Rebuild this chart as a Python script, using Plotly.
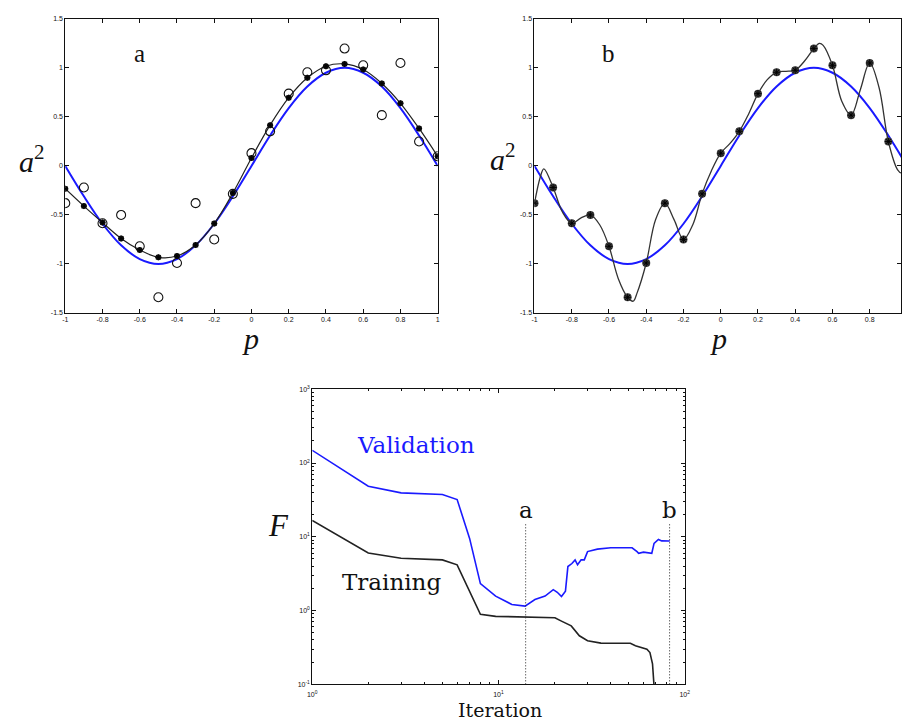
import math
import plotly.graph_objects as go

# ---------------- data ----------------
p_samples = [-1.0, -0.9, -0.8, -0.7, -0.6, -0.5, -0.4, -0.3, -0.2, -0.1, 0.0,
             0.1, 0.2, 0.3, 0.4, 0.5, 0.6, 0.7, 0.8, 0.9, 1.0]
# noisy training targets (open circles)
targets = [-0.38, -0.22, -0.585, -0.50, -0.82, -1.34, -0.99, -0.38, -0.75, -0.285, 0.13,
           0.353, 0.737, 0.955, 0.975, 1.197, 1.026, 0.518, 1.05, 0.249, 0.098]
# underlying function (blue)
true_fn = [0.0, -0.31, -0.59, -0.81, -0.95, -1.0, -0.95, -0.81, -0.59, -0.31, 0.0,
           0.31, 0.59, 0.81, 0.95, 1.0, 0.95, 0.81, 0.59, 0.31, 0.0]
# network response at point a (early stopping)
resp_a = [-0.233, -0.41, -0.578, -0.74, -0.858, -0.932, -0.919, -0.807, -0.588, -0.277, 0.081,
          0.416, 0.696, 0.899, 1.017, 1.04, 0.983, 0.841, 0.639, 0.382, 0.098]
# network response at point b (overfit)
p_curve_b = [-1.0, -0.97, -0.95, -0.9, -0.85, -0.8, -0.75, -0.7, -0.65, -0.6, -0.55, -0.5,
             -0.47, -0.45, -0.4, -0.35, -0.3, -0.25, -0.2, -0.15, -0.1, -0.05, 0.0,
             0.05, 0.1, 0.15, 0.2, 0.25, 0.3, 0.35, 0.4, 0.45, 0.5, 0.53, 0.55, 0.6,
             0.65, 0.7, 0.75, 0.8, 0.85, 0.9, 0.95, 0.97, 1.0]
resp_b = [-0.38, -0.12, -0.03, -0.22, -0.47, -0.585, -0.53, -0.50, -0.60, -0.82, -1.15, -1.34,
          -1.38, -1.30, -0.99, -0.55, -0.38, -0.55, -0.75, -0.60, -0.285, -0.05, 0.13,
          0.23, 0.353, 0.53, 0.737, 0.88, 0.955, 0.965, 0.975, 1.07, 1.197, 1.25, 1.23, 1.026,
          0.66, 0.518, 0.78, 1.05, 0.80, 0.249, -0.04, -0.07, 0.098]

# performance index vs iteration
val_iter = [1, 2, 3, 5, 6, 7, 8, 9.66, 11.8, 13.9, 15.7, 17.8, 19.7, 20.7, 21.8, 22.9,
            23.6, 24.8, 25.8, 26.6, 27.8, 28.9, 30.1, 34.0, 40.1, 52.2, 55.5, 56.6,
            60.1, 66.6, 68.5, 72.3, 75.3, 83.2]
val_F = [148.6, 48.4, 39.4, 37.4, 32.0, 9.5, 2.32, 1.57, 1.21, 1.15, 1.41, 1.57, 1.92, 1.77,
         1.55, 1.83, 3.95, 4.34, 4.86, 4.17, 4.86, 4.86, 6.3, 6.8, 7.1, 7.1, 6.3, 5.98,
         6.2, 5.98, 8.15, 9.2, 8.8, 8.76]
train_iter = [1, 2, 3, 5, 6, 8, 9.66, 14, 20.1, 21.8, 24.6, 27.2, 30.1, 35.5, 51.1, 54.4,
              62.7, 65.1, 67.2, 68.4, 69.0]
train_F = [16.7, 6.04, 5.12, 4.86, 4.17, 0.89, 0.835, 0.82, 0.80, 0.72, 0.62, 0.455, 0.39,
           0.362, 0.36, 0.333, 0.30, 0.27, 0.19, 0.10, 0.06]

marker_iters = [14, 83]
marker_labels = ["a", "b"]
marker_top = 14.8

p_ticks = [-1, -0.8, -0.6, -0.4, -0.2, 0, 0.2, 0.4, 0.6, 0.8, 1]
p_ticktext = ["-1", "-0.8", "-0.6", "-0.4", "-0.2", "0", "0.2", "0.4", "0.6", "0.8", "1"]
a_ticks = [-1.5, -1, -0.5, 0, 0.5, 1, 1.5]
a_ticktext = ["-1.5", "-1", "-0.5", "0", "0.5", "1", "1.5"]
it_ticks = [1, 10, 100]
it_ticktext = ["10<sup>0</sup>", "10<sup>1</sup>", "10<sup>2</sup>"]
F_ticks = [0.1, 1, 10, 100, 1000]
F_ticktext = ["10<sup>-1</sup>", "10<sup>0</sup>", "10<sup>1</sup>", "10<sup>2</sup>", "10<sup>3</sup>"]
minor_it = [2, 3, 4, 5, 6, 7, 8, 9, 20, 30, 40, 50, 60, 70, 80, 90]
minor_F = [v * m for v in [0.1, 1, 10, 100] for m in [2, 3, 4, 5, 6, 7, 8, 9]]

BLUE = "#1a1aff"
SERIF = "Liberation Serif, DejaVu Serif, serif"
WSERIF = "DejaVu Serif, Liberation Serif, serif"
SANS = "Liberation Sans, Arial, sans-serif"

fig = go.Figure()

# ---- panel a ----
fig.add_trace(go.Scatter(x=p_samples, y=true_fn, mode="lines", line=dict(color=BLUE, width=2, shape="spline"),
                         xaxis="x", yaxis="y", showlegend=False))
fig.add_trace(go.Scatter(x=p_samples, y=resp_a, mode="lines", line=dict(color="#222", width=1.2, shape="spline"),
                         xaxis="x", yaxis="y", showlegend=False))
fig.add_trace(go.Scatter(x=p_samples, y=targets, mode="markers",
                         marker=dict(symbol="circle-open", size=9, color="#111", line=dict(width=1.1)),
                         xaxis="x", yaxis="y", showlegend=False))
fig.add_trace(go.Scatter(x=p_samples, y=resp_a, mode="markers",
                         marker=dict(symbol="circle", size=6, color="#111"),
                         xaxis="x", yaxis="y", showlegend=False))
fig.add_trace(go.Scatter(x=p_samples, y=resp_a, mode="markers",
                         marker=dict(symbol="asterisk-open", size=5, color="#000", line=dict(width=0.8)),
                         xaxis="x", yaxis="y", showlegend=False))

# ---- panel b ----
fig.add_trace(go.Scatter(x=p_samples, y=true_fn, mode="lines", line=dict(color=BLUE, width=2, shape="spline"),
                         xaxis="x2", yaxis="y2", showlegend=False))
fig.add_trace(go.Scatter(x=p_curve_b, y=resp_b, mode="lines", line=dict(color="#333", width=1.3, shape="spline"),
                         xaxis="x2", yaxis="y2", showlegend=False))
fig.add_trace(go.Scatter(x=p_samples, y=targets, mode="markers",
                         marker=dict(symbol="circle", size=8, color="#3a3a3a"),
                         xaxis="x2", yaxis="y2", showlegend=False))
fig.add_trace(go.Scatter(x=p_samples, y=targets, mode="markers",
                         marker=dict(symbol="asterisk-open", size=6, color="#000", line=dict(width=0.9)),
                         xaxis="x2", yaxis="y2", showlegend=False))

# ---- performance plot ----
fig.add_trace(go.Scatter(x=val_iter, y=val_F, mode="lines", line=dict(color=BLUE, width=1.6),
                         xaxis="x3", yaxis="y3", showlegend=False))
fig.add_trace(go.Scatter(x=train_iter, y=train_F, mode="lines", line=dict(color="#222", width=1.6),
                         xaxis="x3", yaxis="y3", showlegend=False))
for it, lab in zip(marker_iters, marker_labels):
    fig.add_trace(go.Scatter(x=[it, it], y=[0.1, marker_top], mode="lines",
                             line=dict(color="#222", width=1, dash="1px,2px"),
                             xaxis="x3", yaxis="y3", showlegend=False))
    fig.add_annotation(x=math.log10(it), y=math.log10(marker_top), xref="x3", yref="y3", text=lab,
                       showarrow=False, xanchor="center", yanchor="bottom", yshift=-1,
                       font=dict(family=WSERIF, size=23, color="#111"))

fig.add_annotation(x=math.log10(3.6), y=math.log10(178), xref="x3", yref="y3", text="Validation",
                   showarrow=False, xanchor="center", yanchor="middle",
                   font=dict(family=WSERIF, size=23, color=BLUE))
fig.add_annotation(x=math.log10(2.66), y=math.log10(2.45), xref="x3", yref="y3", text="Training",
                   showarrow=False, xanchor="center", yanchor="middle",
                   font=dict(family=WSERIF, size=23, color="#111"))

# panel letters
fig.add_annotation(x=-0.6, y=1.15, xref="x", yref="y", text="a", showarrow=False,
                   font=dict(family=SERIF, size=25, color="#111"))
fig.add_annotation(x=-0.6, y=1.15, xref="x2", yref="y2", text="b", showarrow=False,
                   font=dict(family=SERIF, size=25, color="#111"))

# axis titles
def ptitle(xp, yp, text, size, family=SERIF):
    fig.add_annotation(x=xp / 907, y=1 - yp / 722, xref="paper", yref="paper", text=text,
                       showarrow=False, xanchor="center", yanchor="middle",
                       font=dict(family=family, size=size, color="#111"))

for xp, yp in [(27, 157), (504, 154)]:
    ptitle(xp, yp, "<i>a</i><sup>2</sup>", 30)
for xp in [249, 722]:
    ptitle(xp, 338, "<i>p</i>", 30)
ptitle(277, 527, "<i>F</i>", 31)
ptitle(501, 713, "Iteration", 19, WSERIF)

tickfont = dict(family=SANS, size=7, color="#111")
common = dict(showline=True, linecolor="#111", linewidth=1, mirror="allticks", ticks="inside",
              ticklen=4, tickcolor="#111", showgrid=False, zeroline=False, tickfont=tickfont)

fig.update_layout(
    width=907, height=722, margin=dict(l=0, r=0, t=0, b=0),
    paper_bgcolor="white", plot_bgcolor="white",
    xaxis=dict(domain=[61 / 907, 438 / 907], range=[-1, 1], tickvals=p_ticks, ticktext=p_ticktext,
               anchor="y", **common),
    yaxis=dict(domain=[1 - 312 / 722, 1 - 15 / 722], range=[-1.5, 1.5], tickvals=a_ticks,
               ticktext=a_ticktext, anchor="x", **common),
    xaxis2=dict(domain=[536 / 907, 1.0], range=[-1, 0.968], tickvals=p_ticks, ticktext=p_ticktext,
                anchor="y2", **common),
    yaxis2=dict(domain=[1 - 312 / 722, 1 - 15 / 722], range=[-1.5, 1.5], tickvals=a_ticks,
                ticktext=a_ticktext, anchor="x2", **common),
    xaxis3=dict(domain=[311 / 907, 688 / 907], type="log", range=[0, 2], tickvals=it_ticks,
                ticktext=it_ticktext, anchor="y3", ticklabelstandoff=3,
                minor=dict(tickvals=minor_it, ticks="inside", ticklen=2, tickcolor="#111"), **common),
    yaxis3=dict(domain=[1 - 687 / 722, 1 - 389 / 722], type="log", range=[-1, 3], tickvals=F_ticks,
                ticktext=F_ticktext, anchor="x3",
                minor=dict(tickvals=minor_F, ticks="inside", ticklen=2, tickcolor="#111"), **common),
)

fig.write_html("out.html")
